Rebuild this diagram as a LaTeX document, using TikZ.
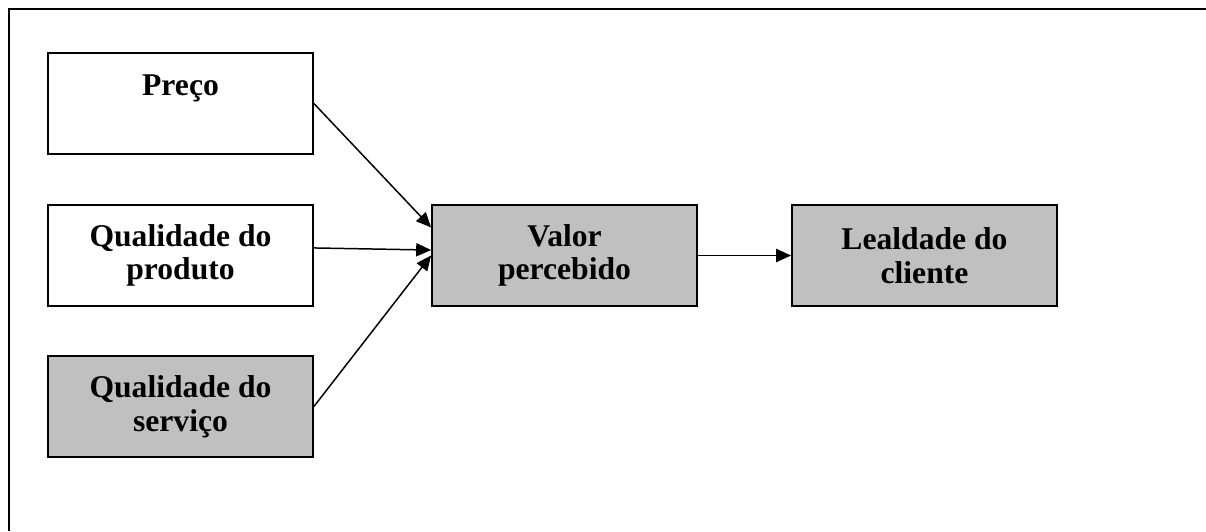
\documentclass[tikz,border=0pt]{standalone}
\usepackage{fontspec}
\setmainfont{Liberation Serif}
\usetikzlibrary{arrows.meta}
\definecolor{cinza}{HTML}{C0C0C0}

\begin{document}
\begin{tikzpicture}[x=0.02cm,y=-0.02cm,
 	caixa/.style={draw,line width=1.05pt,minimum width=5.3cm,minimum height=2.02cm,inner sep=0pt,align=center,font=\bfseries\fontsize{18}{19.2}\selectfont},
 	seta/.style={-{Triangle[length=8.5pt,width=7.5pt]},line width=0.85pt}]
 	\useasboundingbox (0,0) rectangle (1206,531);
 	\draw[line width=1.5pt] (1206,9) -- (9,9) -- (9,531);
 	\node[caixa] (preco) at (180.5,103.5) {Preço\\[2pt]~};
 	\node[caixa] (produto) at (180.5,255.5) {Qualidade do\\produto};
 	\node[caixa,fill=cinza] (servico) at (180.5,406.5) {Qualidade do\\serviço};
 	\node[caixa,fill=cinza] (valor) at (564.5,255.5) {Valor\\percebido};
 	\node[caixa,fill=cinza] (lealdade) at (924.5,255.5) {Lealdade do\\cliente};
 	\draw[seta] (preco.east) -- ([yshift=16pt]valor.west);
 	\draw[seta] ([yshift=4.3pt]produto.east) -- ([yshift=3.1pt]valor.west);
 	\draw[seta] (servico.east) -- (valor.west);
 	\draw[seta] (valor.east) -- (lealdade.west);
\end{tikzpicture}
\end{document}
